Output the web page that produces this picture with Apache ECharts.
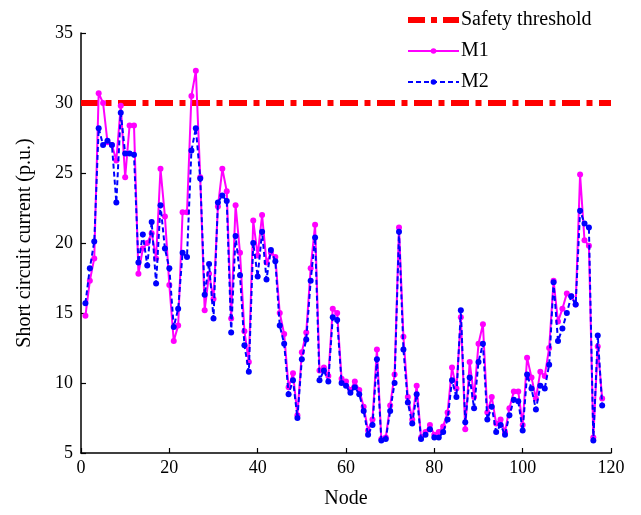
<!DOCTYPE html>
<html>
<head>
<meta charset="utf-8">
<script src="https://cdn.jsdelivr.net/npm/echarts@6/dist/echarts.min.js"></script>
<style>
  html, body { margin: 0; padding: 0; background: #fff; }
  #chart { width: 641px; height: 515px; }
</style>
</head>
<body>
<div id="chart"></div>
<script>
// Short circuit current per node (p.u.) for the two methods
const m1Values = [
  14.8, 17.3, 18.9, 30.7, 30.0, 27.2, 27.0, 25.9, 29.8, 24.7,
  28.4, 28.4, 17.8, 19.6, 20.0, 20.7, 18.9, 25.3, 21.9, 17.0,
  13.0, 14.1, 22.2, 22.2, 30.5, 32.3, 24.7, 15.2, 17.8, 16.0,
  22.6, 25.3, 23.7, 14.6, 22.7, 19.3, 13.7, 11.5, 21.6, 19.1,
  22.0, 18.6, 19.3, 19.0, 15.0, 13.5, 9.7, 10.7, 7.7, 12.2,
  13.6, 18.2, 21.3, 10.9, 11.1, 10.5, 15.3, 15.0, 10.3, 10.1,
  9.5, 10.1, 9.5, 8.3, 6.6, 7.4, 12.4, 6.0, 6.1, 8.4,
  10.6, 21.1, 13.3, 9.0, 7.4, 9.8, 6.1, 6.5, 7.0, 6.3,
  6.5, 6.9, 7.9, 11.1, 9.6, 14.7, 6.7, 11.5, 9.0, 12.8,
  14.2, 7.9, 9.0, 7.1, 7.4, 6.5, 8.2, 9.4, 9.4, 7.0,
  11.8, 10.4, 8.9, 10.8, 10.5, 12.5, 17.3, 14.4, 15.3, 16.4,
  16.2, 15.6, 24.9, 20.2, 19.8, 6.1, 12.6, 8.9
];
const m2Values = [
  15.7, 18.2, 20.1, 28.2, 27.0, 27.3, 27.0, 22.9, 29.3, 26.4,
  26.4, 26.3, 18.6, 20.6, 18.4, 21.5, 17.1, 22.7, 19.6, 18.2,
  14.0, 15.3, 19.3, 19.0, 26.6, 28.2, 24.6, 16.3, 18.5, 14.6,
  22.9, 23.4, 23.0, 13.6, 20.5, 17.7, 12.7, 10.8, 20.0, 17.6,
  20.8, 17.4, 19.5, 18.7, 14.1, 12.8, 9.2, 10.2, 7.5, 11.7,
  13.1, 17.3, 20.4, 10.2, 10.9, 10.1, 14.7, 14.5, 10.0, 9.8,
  9.3, 9.7, 9.2, 8.0, 6.3, 7.0, 11.7, 5.9, 6.0, 8.0,
  10.0, 20.8, 12.4, 8.6, 7.1, 9.2, 6.0, 6.3, 6.7, 6.1,
  6.1, 6.5, 7.4, 10.2, 9.0, 15.2, 7.2, 10.4, 8.2, 11.5,
  12.8, 7.4, 8.3, 6.5, 7.0, 6.3, 7.7, 8.8, 8.7, 6.6,
  10.6, 9.6, 8.1, 9.8, 9.6, 11.3, 17.2, 13.0, 13.9, 15.0,
  16.2, 15.6, 22.3, 21.4, 21.1, 5.9, 13.4, 8.4
];
const thresholdValue = 30;
const thresholdSpan = [0, 120];
const xTicks = { min: 0, max: 120, step: 20 };
const yTicks = { min: 5, max: 35, step: 5 };

const toPoints = vals => vals.map((v, i) => [i + 1, v]);

const serif = '"Liberation Serif", "DejaVu Serif", serif';
const thresholdDash = [18, 6.5, 6, 6.5];
const chart = echarts.init(document.getElementById('chart'), null, { renderer: 'canvas' });

chart.setOption({
  animation: false,
  backgroundColor: '#ffffff',
  textStyle: { fontFamily: serif, color: '#000' },
  grid: { left: 81, right: 30, top: 33, bottom: 62 },
  legend: {
    orient: 'vertical',
    left: 400,
    top: 5,
    itemWidth: 51,
    itemHeight: 7,
    itemGap: 11,
    textStyle: { fontFamily: serif, fontSize: 20, color: '#000', padding: [0, 0, 0, -3] },
    data: [
      {
        name: 'Safety threshold',
        lineStyle: { color: '#ff0000', width: 6, type: [17, 6, 6, 6] },
        itemStyle: { opacity: 0 }
      },
      'M1',
      'M2'
    ]
  },
  xAxis: {
    type: 'value',
    min: xTicks.min, max: xTicks.max, interval: xTicks.step,
    name: 'Node',
    nameLocation: 'middle',
    nameGap: 36,
    nameTextStyle: { fontFamily: serif, fontSize: 20, color: '#000' },
    axisLine: { lineStyle: { color: '#000', width: 1.5 } },
    axisTick: { inside: true, length: 5, lineStyle: { color: '#000', width: 1.2 } },
    axisLabel: { fontFamily: serif, fontSize: 18, color: '#000', margin: 6 },
    splitLine: { show: false }
  },
  yAxis: {
    type: 'value',
    min: yTicks.min, max: yTicks.max, interval: yTicks.step,
    name: 'Short circuit current (p.u.)',
    nameLocation: 'middle',
    nameGap: 46,
    nameTextStyle: { fontFamily: serif, fontSize: 20, color: '#000' },
    axisLine: { onZero: false, lineStyle: { color: '#000', width: 1.5 } },
    axisTick: { inside: true, length: 5, lineStyle: { color: '#000', width: 1.2 } },
    axisLabel: { fontFamily: serif, fontSize: 18, color: '#000', margin: 8 },
    splitLine: { show: false }
  },
  series: [
    {
      name: 'Safety threshold',
      type: 'line',
      data: thresholdSpan.map(x => [x, thresholdValue]),
      showSymbol: false,
      symbol: 'none',
      color: '#ff0000',
      lineStyle: { color: '#ff0000', width: 6, type: thresholdDash },
      z: 1
    },
    {
      name: 'M1',
      type: 'line',
      data: toPoints(m1Values),
      symbol: 'circle',
      symbolSize: 6,
      color: '#ff00ff',
      itemStyle: { color: '#ff00ff' },
      lineStyle: { color: '#ff00ff', width: 2 },
      z: 2
    },
    {
      name: 'M2',
      type: 'line',
      data: toPoints(m2Values),
      symbol: 'circle',
      symbolSize: 6,
      color: '#0000ff',
      itemStyle: { color: '#0000ff' },
      lineStyle: { color: '#0000ff', width: 2, type: [5, 3] },
      z: 3
    }
  ]
});
</script>
</body>
</html>
